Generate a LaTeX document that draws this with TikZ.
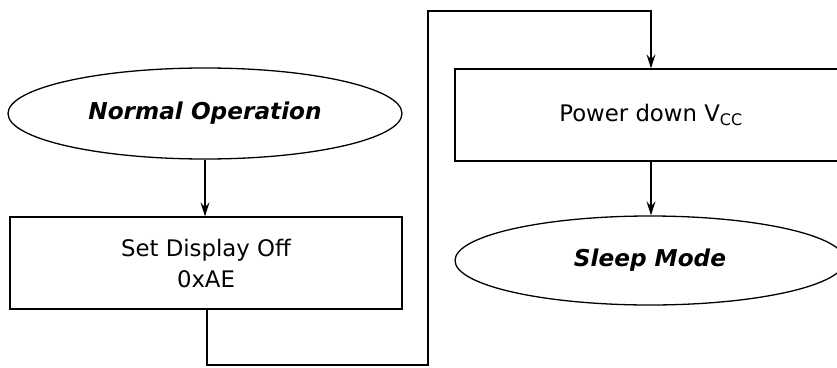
\documentclass[tikz,border=0pt]{standalone}
\usepackage{fontspec}
\setmainfont{DejaVu Sans}
\usetikzlibrary{shapes.geometric,arrows.meta}
\tikzset{
  every picture/.style={x=1pt,y=-1pt},
  base/.style={draw=black,line width=1.3pt,inner sep=0pt,align=center,
    font=\fontsize{22.8}{31}\selectfont},
  stepbox/.style={base,rectangle},
  term/.style={base,ellipse,font=\fontsize{23.2}{31}\selectfont\bfseries\itshape},
  conn/.style={draw=black,line width=1.3pt,-{Stealth[length=14pt,width=9pt,inset=5pt]}}
}
\begin{document}
\begin{tikzpicture}
\clip (0,0) rectangle (837,367);
\fill[white] (0,0) rectangle (837,367);
\node[term,minimum width=394pt,minimum height=91pt] (normal) at (205,113.5) {Normal Operation};
\node[stepbox,minimum width=392pt,minimum height=92pt] (setoff) at (206,263) {Set Display Off\\0xAE};
\node[stepbox,minimum width=392pt,minimum height=92pt] (power) at (651,115) {Power down V\textsubscript{CC}};
\node[term,minimum width=390pt,minimum height=89pt] (sleep) at (650,260.5) {Sleep Mode};
\coordinate (c1) at (207,365);
\coordinate (c2) at (428,365);
\coordinate (c3) at (428,11);
\coordinate (c4) at (651,11);
\draw[conn] (normal.south) -- (normal.south |- setoff.north);
\draw[conn] (setoff.south -| c1) -- (c1) -- (c2) -- (c3) -- (c4) -- (c4 |- power.north);
\draw[conn] (power.south -| c4) -- (c4 |- sleep.north);
\end{tikzpicture}
\end{document}
